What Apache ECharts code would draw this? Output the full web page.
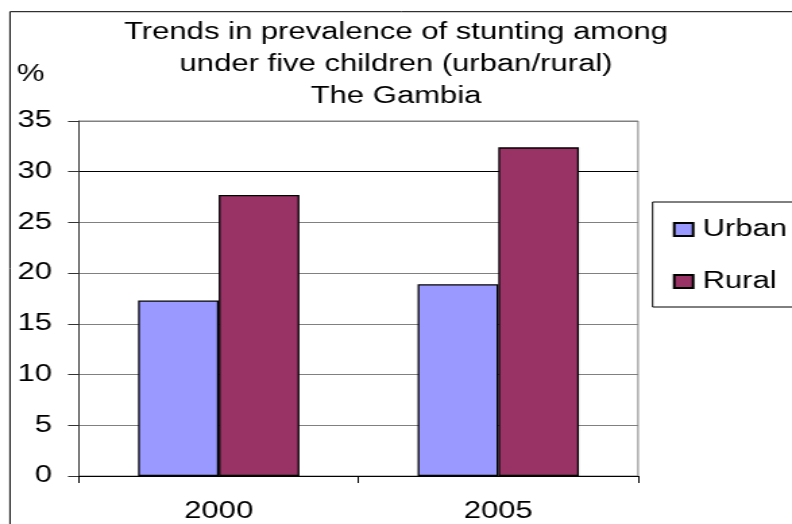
<!DOCTYPE html>
<html>
<head>
<meta charset="utf-8">
<script src="https://cdn.jsdelivr.net/npm/echarts@6/dist/echarts.min.js"></script>
<style>
  html, body { margin: 0; padding: 0; background: #fff; overflow: hidden; }
  #wrap { width: 792px; height: 524px; overflow: hidden; position: relative; }
  /* the reference picture is a horizontally stretched export; reproduce that stretch */
  #chart { width: 587px; height: 524px; transform: scaleX(1.34923); transform-origin: 0 0; }
</style>
</head>
<body>
<div id="wrap"><div id="chart"></div></div>
<script>
const categories = ['2000', '2005'];
const urbanValues = [17.3, 18.9];
const ruralValues = [27.7, 32.4];
const seriesNames = ['Urban', 'Rural'];
const titleLines = ['Trends in prevalence of stunting among', 'under five children (urban/rural)', 'The Gambia'];
const yUnit = '%';

const FONT = "'Liberation Sans', Arial, sans-serif";
const chart = echarts.init(document.getElementById('chart'), null, { renderer: 'canvas' });

const gridColors = ['#808080', '#808080', '#808080', '#808080', '#808080', '#808080', '#000000', '#808080'];

chart.setOption({
  animation: false,
  backgroundColor: '#ffffff',
  title: {
    text: titleLines.join('\n'),
    left: 'center',
    top: 17,
    padding: 0,
    textStyle: { fontFamily: FONT, fontSize: 23, fontWeight: 'normal', color: '#000', lineHeight: 32 }
  },
  graphic: [
    {
      type: 'rect', z: -10, silent: true,
      shape: { x: 7.4, y: 11.7, width: 800, height: 800 },
      style: { fill: 'none', stroke: '#000', lineWidth: 1 }
    },
    {
      type: 'text', left: 12.6, top: 63,
      style: { text: yUnit, fontFamily: FONT, fontSize: 23, fill: '#000' }
    }
  ],
  legend: {
    orient: 'vertical',
    left: 483.7,
    top: 202,
    padding: [16, 12, 14, 15],
    itemGap: 29,
    itemWidth: 14,
    itemHeight: 13,
    borderColor: '#000',
    borderWidth: 1,
    backgroundColor: '#fff',
    icon: 'rect',
    textStyle: { fontFamily: FONT, fontSize: 23, color: '#000', lineHeight: 23, padding: [0, 0, 0, 2] },
    data: seriesNames
  },
  grid: {
    left: 58.5, right: 114.1, top: 121, bottom: 48,
    show: true, backgroundColor: '#fff', borderColor: '#808080', borderWidth: 1,
    containLabel: false
  },
  xAxis: {
    type: 'category',
    data: categories,
    axisLine: { show: true, lineStyle: { color: '#000', width: 1 } },
    axisTick: { show: true, alignWithLabel: false, length: 7, lineStyle: { color: '#000' } },
    axisLabel: { fontFamily: FONT, fontSize: 23, color: '#000', margin: 24 },
    splitLine: { show: false }
  },
  yAxis: {
    type: 'value',
    min: 0, max: 35, interval: 5,
    axisLine: { show: true, lineStyle: { color: '#333', width: 1 } },
    axisTick: { show: true, length: 8.1, lineStyle: { color: '#333' } },
    axisLabel: { fontFamily: FONT, fontSize: 23, color: '#000', margin: 20 },
    splitLine: { show: true, lineStyle: { color: gridColors, width: 1 } }
  },
  series: [
    {
      name: seriesNames[0], type: 'bar', data: urbanValues,
      barGap: '0%', barCategoryGap: '42.3%',
      itemStyle: { color: '#9999FF', borderColor: '#000', borderWidth: 1.3 }
    },
    {
      name: seriesNames[1], type: 'bar', data: ruralValues,
      barGap: '0%', barCategoryGap: '42.3%',
      itemStyle: { color: '#993366', borderColor: '#000', borderWidth: 1.3 }
    }
  ]
});
</script>
</body>
</html>
